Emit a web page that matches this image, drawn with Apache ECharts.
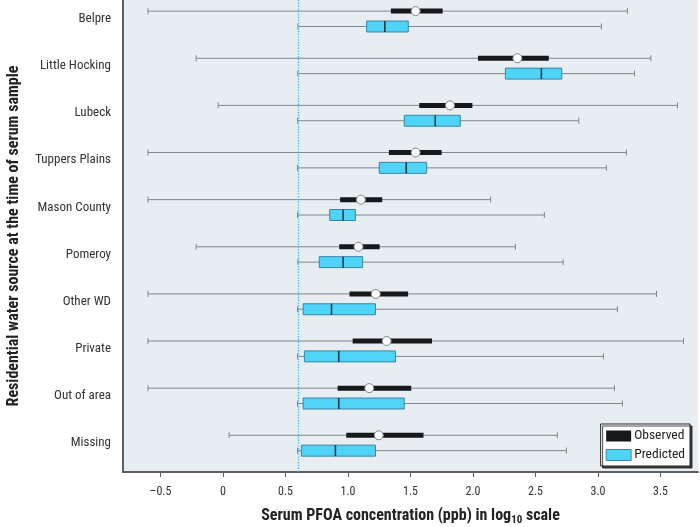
<!DOCTYPE html>
<html>
<head>
<meta charset="utf-8">
<script src="https://cdn.jsdelivr.net/npm/echarts@6/dist/echarts.min.js"></script>
<style>
html,body{margin:0;padding:0;background:#fff;}
#chart{width:700px;height:527px;}
</style>
</head>
<body>
<div id="chart"></div>
<script>
const categories = ['Belpre','Little Hocking','Lubeck','Tuppers Plains','Mason County','Pomeroy','Other WD','Private','Out of area','Missing'];
// [low whisker, Q1, median, Q3, high whisker]
const observed = [
  [-0.60, 1.343, 1.541, 1.757, 3.235],
  [-0.215, 2.040, 2.355, 2.606, 3.423],
  [-0.039, 1.570, 1.816, 1.995, 3.636],
  [-0.60, 1.327, 1.541, 1.749, 3.227],
  [-0.60, 0.937, 1.103, 1.274, 2.141],
  [-0.215, 0.930, 1.084, 1.253, 2.339],
  [-0.60, 1.012, 1.222, 1.481, 3.468],
  [-0.60, 1.037, 1.309, 1.672, 3.684],
  [-0.60, 0.917, 1.170, 1.506, 3.131],
  [0.049, 0.986, 1.246, 1.604, 2.675]
];
const predicted = [
  [0.599, 1.149, 1.295, 1.482, 3.027],
  [0.598, 2.259, 2.547, 2.710, 3.292],
  [0.596, 1.450, 1.698, 1.898, 2.846],
  [0.596, 1.250, 1.466, 1.629, 3.067],
  [0.596, 0.854, 0.961, 1.059, 2.571],
  [0.599, 0.770, 0.961, 1.117, 2.721],
  [0.596, 0.641, 0.868, 1.220, 3.155],
  [0.596, 0.651, 0.926, 1.380, 3.043],
  [0.596, 0.641, 0.926, 1.450, 3.195],
  [0.596, 0.627, 0.899, 1.220, 2.747]
];
const xTicks = [-0.5, 0, 0.5, 1.0, 1.5, 2.0, 2.5, 3.0, 3.5];
const detectionLimit = 0.6;

const FONT = '"Liberation Sans Narrow", "Roboto Condensed", "Arial Narrow", sans-serif';
const OFFSET = 0.163;
const WHISKER = '#7b8890';

function toData(arr){ return arr.map((d,i)=>[i].concat(d)); }

function renderObserved(params, api){
  const i = api.value(0);
  const y = i - OFFSET;
  const pLow = api.coord([api.value(1), y]);
  const pQ1 = api.coord([api.value(2), y]);
  const pMed = api.coord([api.value(3), y]);
  const pQ3 = api.coord([api.value(4), y]);
  const pHigh = api.coord([api.value(5), y]);
  const yy = pLow[1];
  return {type:'group', children:[
    {type:'line', shape:{x1:pLow[0], y1:yy, x2:pHigh[0], y2:yy}, style:{stroke:WHISKER, lineWidth:1}},
    {type:'line', shape:{x1:pLow[0], y1:yy-3, x2:pLow[0], y2:yy+3}, style:{stroke:WHISKER, lineWidth:1}},
    {type:'line', shape:{x1:pHigh[0], y1:yy-3, x2:pHigh[0], y2:yy+3}, style:{stroke:WHISKER, lineWidth:1}},
    {type:'rect', shape:{x:pQ1[0], y:yy-2.5, width:pQ3[0]-pQ1[0], height:5}, style:{fill:'#16191c'}},
    {type:'circle', shape:{cx:pMed[0], cy:yy, r:4.5}, style:{fill:'#ffffff', stroke:'#7d868c', lineWidth:1}}
  ]};
}
function renderPredicted(params, api){
  const i = api.value(0);
  const y = i + OFFSET;
  const pLow = api.coord([api.value(1), y]);
  const pQ1 = api.coord([api.value(2), y]);
  const pMed = api.coord([api.value(3), y]);
  const pQ3 = api.coord([api.value(4), y]);
  const pHigh = api.coord([api.value(5), y]);
  const yy = pLow[1];
  return {type:'group', children:[
    {type:'line', shape:{x1:pLow[0], y1:yy, x2:pHigh[0], y2:yy}, style:{stroke:WHISKER, lineWidth:1}},
    {type:'line', shape:{x1:pLow[0], y1:yy-3, x2:pLow[0], y2:yy+3}, style:{stroke:WHISKER, lineWidth:1}},
    {type:'line', shape:{x1:pHigh[0], y1:yy-3, x2:pHigh[0], y2:yy+3}, style:{stroke:WHISKER, lineWidth:1}},
    {type:'rect', shape:{x:pQ1[0], y:yy-5.5, width:pQ3[0]-pQ1[0], height:11}, style:{fill:'#4fd4f8', stroke:'#3a86a6', lineWidth:1}},
    {type:'line', shape:{x1:pMed[0], y1:yy-5.5, x2:pMed[0], y2:yy+5.5}, style:{stroke:'#173848', lineWidth:1.6}}
  ]};
}

const chart = echarts.init(document.getElementById('chart'), null, {renderer:'canvas'});
chart.setOption({
  animation:false,
  backgroundColor:'#ffffff',
  textStyle:{fontFamily:FONT},
  grid:{left:123, right:2, top:0, bottom:55, show:true, backgroundColor:'#e8edf2', borderWidth:0,
        containLabel:false, outerBoundsMode:'none'},
  xAxis:{
    type:'value', min:-0.8, max:3.8,
    axisLine:{show:true, onZero:false, lineStyle:{color:'#5a5f63', width:2}},
    axisTick:{show:true, length:5, customValues:xTicks, lineStyle:{color:'#5a5f63', width:1}},
    axisLabel:{customValues:xTicks, color:'#333', fontSize:12, fontFamily:FONT, margin:14,
      formatter:function(v){ if (v===0) return '0'; if (v<0) return '\u2013'+Math.abs(v).toFixed(1); return v.toFixed(1);} },
    splitLine:{show:false},
    name:'Serum PFOA concentration (ppb) in log{sub|10} scale',
    nameLocation:'middle', nameGap:33,
    nameTextStyle:{fontSize:16, fontWeight:'bold', color:'#222', fontFamily:FONT,
      rich:{sub:{fontSize:11, fontWeight:'bold', color:'#222', fontFamily:FONT, padding:[10,0,0,0]}}}
  },
  yAxis:{
    type:'value', inverse:true, min:-0.399, max:9.616,
    axisLine:{show:true, onZero:false, lineStyle:{color:'#5a5f63', width:2}},
    axisTick:{show:false},
    splitLine:{show:false},
    axisLabel:{customValues:[0,1,2,3,4,5,6,7,8,9], color:'#333', fontSize:13, fontFamily:FONT, margin:12,
      formatter:function(v){ return categories[Math.round(v)]; }},
    name:'Residential water source at the time of serum sample',
    nameLocation:'middle', nameGap:101, nameRotate:90,
    nameTextStyle:{fontSize:16, fontWeight:'bold', color:'#222', fontFamily:FONT}
  },
  legend:{
    right:10, top:424, orient:'vertical',
    itemWidth:25, itemHeight:11, itemGap:5,
    backgroundColor:'#ffffff', borderColor:'#222', borderWidth:1,
    padding:[5,5,4,5],
    shadowColor:'rgba(0,0,0,0.7)', shadowOffsetX:2, shadowOffsetY:2, shadowBlur:0,
    textStyle:{fontSize:13.5, color:'#222', fontFamily:FONT, padding:[0,0,0,-2]},
    data:[{name:'Observed', icon:'rect'},{name:'Predicted', icon:'rect', itemStyle:{borderColor:'#3a86a6', borderWidth:1}}]
  },
  series:[
    {name:'Observed', type:'custom', renderItem:renderObserved, data:toData(observed),
     itemStyle:{color:'#16191c'}, encode:{x:[1,2,3,4,5], y:0},
     markLine:{silent:true, symbol:'none', label:{show:false},
       lineStyle:{type:'dotted', color:'#3fc3ea', width:1.4}, data:[{xAxis:detectionLimit}]}},
    {name:'Predicted', type:'custom', renderItem:renderPredicted, data:toData(predicted),
     itemStyle:{color:'#4fd4f8'}, encode:{x:[1,2,3,4,5], y:0}}
  ]
});
</script>
</body>
</html>
